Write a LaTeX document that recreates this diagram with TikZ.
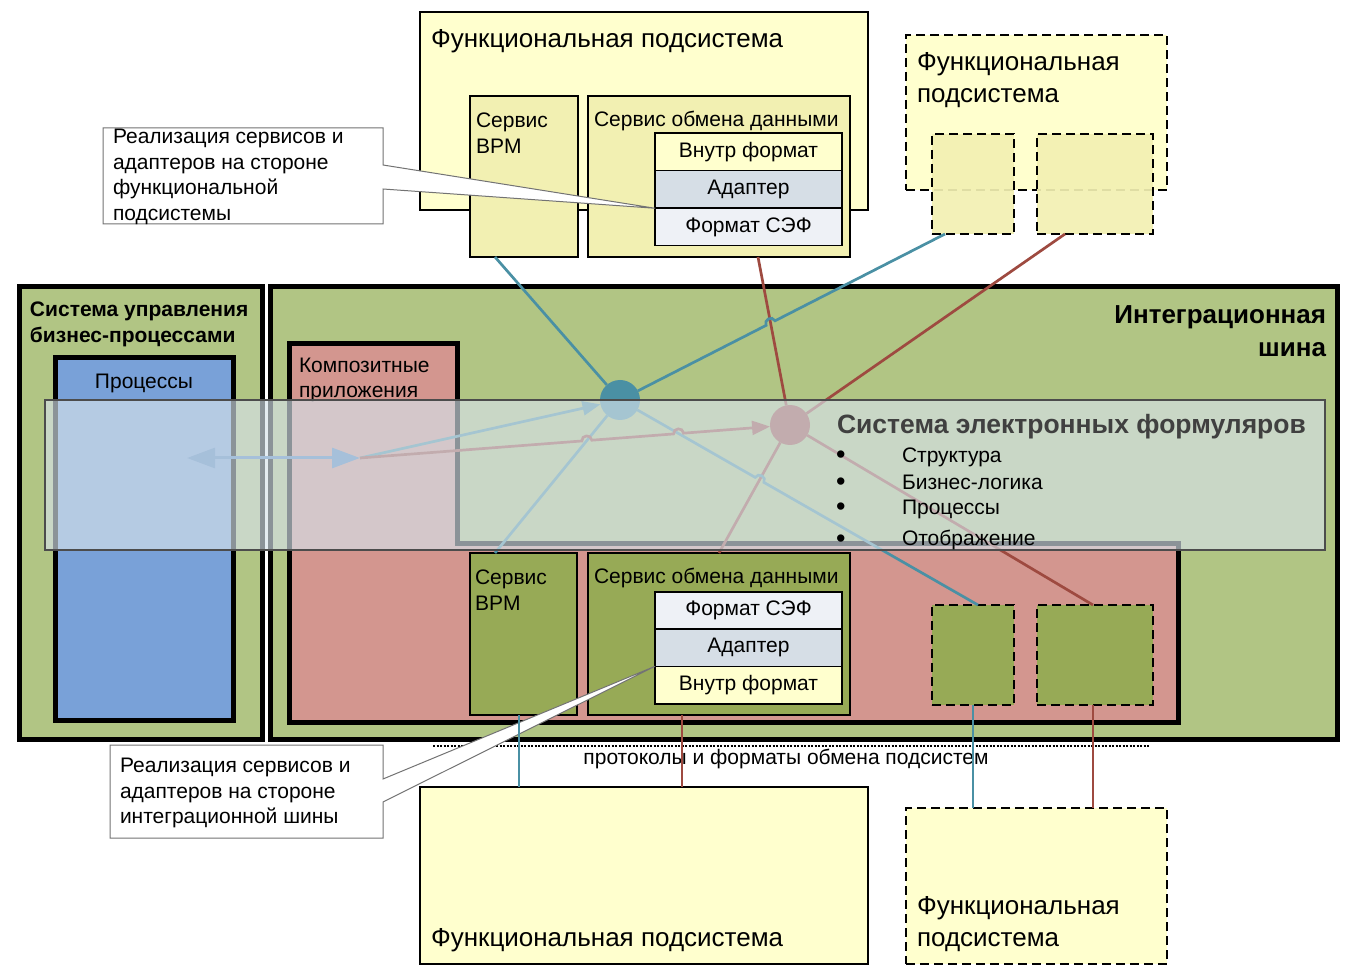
\documentclass[tikz,border=0pt]{standalone}
\usepackage{fontspec}
\setmainfont{Liberation Sans}
\usetikzlibrary{arrows.meta,calc,intersections}

\definecolor{subyellow}{RGB}{255,255,206}
\definecolor{svcyellow}{RGB}{242,240,178}
\definecolor{busgreen}{RGB}{177,197,132}
\definecolor{svcgreen}{RGB}{151,170,86}
\definecolor{apppink}{RGB}{211,150,143}
\definecolor{procblue}{RGB}{121,161,216}
\definecolor{bpmteal}{RGB}{74,144,164}
\definecolor{sefred}{RGB}{158,74,64}
\definecolor{adaptgrey}{RGB}{214,222,230}
\definecolor{sefgrey}{RGB}{238,241,246}
\definecolor{veil}{RGB}{214,226,234}
\definecolor{arrowblue}{RGB}{79,129,189}

\begin{document}
\begin{tikzpicture}[x=1pt, y=-1pt,
    every node/.style={inner sep=0pt, outer sep=0pt},
    sys/.style={draw=black, line width=5pt, rectangle},
    subsys/.style={draw=black, line width=1.5pt, fill=subyellow, rectangle},
    guest/.style={draw=black, line width=2pt, dash pattern=on 9pt off 5pt, fill=subyellow, rectangle},
    guestsvc/.style={draw=black, line width=2pt, dash pattern=on 9pt off 5pt, rectangle},
    svc/.style={draw=black, line width=1.5pt, rectangle},
    fmt/.style={draw=black, line width=1.5pt, minimum width=187, minimum height=37.5, font=\fontsize{21}{25}\selectfont},
    txt/.style={font=\fontsize{21}{25.5}\selectfont, align=left, anchor=west},
    big/.style={font=\fontsize{26}{32}\selectfont, align=left, anchor=west},
    head/.style={font=\bfseries\fontsize{21}{26}\selectfont, align=left, anchor=west},
    hub/.style={circle, minimum size=40},
    bpmline/.style={draw=bpmteal, line width=2.7pt},
    sefline/.style={draw=sefred, line width=2.7pt},
    callout/.style={draw=black!55, line width=1pt, fill=white},
    jump/.style={bend left=90, looseness=1.6},
]
\useasboundingbox (0,0) rectangle (1353,973);

% top functional subsystem
\node[subsys, minimum width=448, minimum height=198] (funtop) at (644,111) {};
\node[big] (funtoptitle) at (431,41) {Функциональная подсистема};
\node[svc, fill=svcyellow, minimum width=108, minimum height=161] (bpmtop) at (524,176.5) {};
\node[txt] (bpmtoptitle) at (476,133) {Сервис\\BPM};
\node[svc, fill=svcyellow, minimum width=262, minimum height=161] (sxtop) at (719,176.5) {};
\node[txt] (sxtoptitle) at (594,121) {Сервис обмена данными};
\node[fmt, fill=subyellow] (intop) at (748.5,152) {Внутр формат};
\node[fmt, fill=adaptgrey] (adtop) at (748.5,189.5) {Адаптер};
\node[fmt, fill=sefgrey] (seftop) at (748.5,227) {Формат СЭФ};

% top right subsystem
\node[guest, minimum width=261, minimum height=155] (funtr) at (1036.5,112.5) {};
\node[big] (funtrtitle) at (917,80) {Функциональная\\подсистема};
\node[guestsvc, fill=svcyellow, fill opacity=0.92, minimum width=82, minimum height=100] (tr1) at (973,184) {};
\node[guestsvc, fill=svcyellow, fill opacity=0.92, minimum width=116, minimum height=100] (tr2) at (1095,184) {};

% BPM system
\node[sys, fill=busgreen, minimum width=243, minimum height=453] (bpms) at (141,513) {};
\node[head] (bpmstitle) at (30,324) {Система управления\\бизнес-процессами};
\node[sys, fill=procblue, minimum width=178, minimum height=362] (procs) at (144,539) {};
\node[txt, anchor=center] (procstitle) at (144,383) {Процессы};

% integration bus
\node[sys, fill=busgreen, minimum width=1067, minimum height=453] (bus) at (804,513) {};
\node[head, font=\bfseries\fontsize{26}{33}\selectfont, align=right, anchor=east] (bustitle) at (1326,331) {Интеграционная\\шина};

% composite applications
\draw[line width=5pt, fill=apppink] (289.5,343.5) -- (457,343.5) -- (457,543) -- (1178,543) -- (1178,722) -- (289.5,722) -- cycle;
\node[txt] (apptitle) at (299,380) {Композитные\\приложения};

% bottom services
\node[svc, fill=svcgreen, minimum width=107, minimum height=162] (bpmbot) at (523.5,634) {};
\node[txt] (bpmbottitle) at (475,590) {Сервис\\BPM};
\node[svc, fill=svcgreen, minimum width=262, minimum height=162] (sxbot) at (719,634) {};
\node[txt] (sxbottitle) at (594,578) {Сервис обмена данными};
\node[fmt, fill=sefgrey] (sefbot) at (748.5,610.5) {Формат СЭФ};
\node[fmt, fill=adaptgrey] (adbot) at (748.5,647.5) {Адаптер};
\node[fmt, fill=subyellow] (inbot) at (748.5,685) {Внутр формат};
\node[guestsvc, fill=svcgreen, minimum width=82, minimum height=100] (br1) at (973,655) {};
\node[guestsvc, fill=svcgreen, minimum width=116, minimum height=100] (br2) at (1095,655) {};

% bottom subsystems
\node[subsys, minimum width=448, minimum height=177] (funbot) at (644,875.5) {};
\node[big] (funbottitle) at (431,940) {Функциональная подсистема};
\node[guest, minimum width=261, minimum height=156] (funbr) at (1036.5,886) {};
\node[big] (funbrtitle) at (917,924) {Функциональная\\подсистема};

\coordinate (protl) at (433,746);
\coordinate (protr) at (1150,746);
\draw[line width=1.5pt, dash pattern=on 2pt off 1.5pt] (protl) -- (protr);
\node[txt, anchor=center] (prototext) at (786,759) {протоколы и форматы обмена подсистем};

% callouts
\filldraw[callout] (103,128) -- (383,128) -- (383,165) -- (adtop.south west) -- (383,189) -- (383,224) -- (103,224) -- cycle;
\node[txt] (calltoptext) at (113,177) {Реализация сервисов и\\адаптеров на стороне\\функциональной\\подсистемы};
\filldraw[callout] (110,745) -- (383,745) -- (383,779) -- (adbot.south west) -- (383,802) -- (383,838) -- (110,838) -- cycle;
\node[txt] (callbottext) at (120,793) {Реализация сервисов и\\адаптеров на стороне\\интеграционной шины};

% hubs
\node[hub, fill=bpmteal] (bpmhub) at (620,400) {};
\node[hub, fill=sefred] (sefhub) at (790,425) {};
\coordinate (fork) at (360,458);
\coordinate (procend) at (187,458);
\coordinate (tr1in) at ([xshift=-28]tr1.south);
\coordinate (br1in) at ([xshift=5]br1.north);

% form system links
\draw[sefline, name path=redup] (sefhub) -- ([xshift=39]sxtop.south);
\draw[sefline] (sefhub) -- ([xshift=-30]tr2.south);
\draw[sefline, name path=reddown] (sefhub) -- (sxbot.north);
\draw[sefline] (sefhub) -- ([xshift=-2]br2.north);

% bpm links
\draw[bpmline] (bpmhub) -- ([xshift=-29]bpmtop.south);
\draw[bpmline, name path=bluedown] (bpmhub) -- ([xshift=-28.5]bpmbot.north);
\path[name path=blueup] (bpmhub.center) -- (tr1in);
\path[name path=bluebr] (bpmhub.center) -- (br1in);
\path[name intersections={of=blueup and redup, by=jumpa}];
\path[name intersections={of=bluebr and reddown, by=jumpb}];
\draw[bpmline] (bpmhub) -- ($(jumpa)!5pt!(bpmhub)$) to[jump] ($(jumpa)!5pt!(tr1in)$) -- (tr1in);
\draw[bpmline] (bpmhub) -- ($(jumpb)!5pt!(bpmhub)$) to[jump] ($(jumpb)!5pt!(br1in)$) -- (br1in);

% from processes
\draw[line width=3pt, arrowblue, {Triangle[length=28pt,width=20pt]}-{Triangle[length=28pt,width=20pt]}] (procend) -- (fork);
\path[name path=redarrow] (fork) -- (sefhub.center);
\path[name intersections={of=redarrow and bluedown, by=jumpc}];
\path[name intersections={of=redarrow and bluebr, by=jumpd}];
\draw[bpmline, -{Triangle[length=18pt,width=14pt]}] (fork) -- (bpmhub);
\draw[sefline, -{Triangle[length=18pt,width=14pt]}] (fork) -- ($(jumpc)!5pt!(fork)$) to[jump] ($(jumpc)!5pt!(sefhub)$) -- ($(jumpd)!5pt!(fork)$) to[jump] ($(jumpd)!5pt!(sefhub)$) -- (sefhub);

% bottom links
\draw[bpmline] ([xshift=-4.5]bpmbot.south) -- ([xshift=-4.5]bpmbot.south |- funbot.north);
\draw[sefline] ([xshift=-37]sxbot.south) -- ([xshift=-37]sxbot.south |- funbot.north);
\draw[bpmline] (br1.south) -- (br1.south |- funbr.north);
\draw[sefline] ([xshift=-2]br2.south) -- ([xshift=-2]br2.south |- funbr.north);

% electronic forms system
\node[draw=black!70, line width=1.5pt, fill=veil, fill opacity=0.65, draw opacity=1, minimum width=1280, minimum height=150] (sef) at (685,475) {};
\node[head, font=\bfseries\fontsize{26.5}{32}\selectfont, text=black!75] (seftitle) at (837,427) {Система электронных формуляров};
\node[txt] (item1) at (836,457) {\makebox[66pt][l]{\smash{\raisebox{-1.5pt}{\fontsize{27}{27}\selectfont •}}}Структура};
\node[txt] (item2) at (836,482) {\makebox[66pt][l]{\smash{\raisebox{-1.5pt}{\fontsize{27}{27}\selectfont •}}}Бизнес-логика};
\node[txt] (item3) at (836,509) {\makebox[66pt][l]{\smash{\raisebox{-1.5pt}{\fontsize{27}{27}\selectfont •}}}Процессы};
\node[txt] (item4) at (836,540) {\makebox[66pt][l]{\smash{\raisebox{-1.5pt}{\fontsize{27}{27}\selectfont •}}}Отображение};
\end{tikzpicture}
\end{document}
